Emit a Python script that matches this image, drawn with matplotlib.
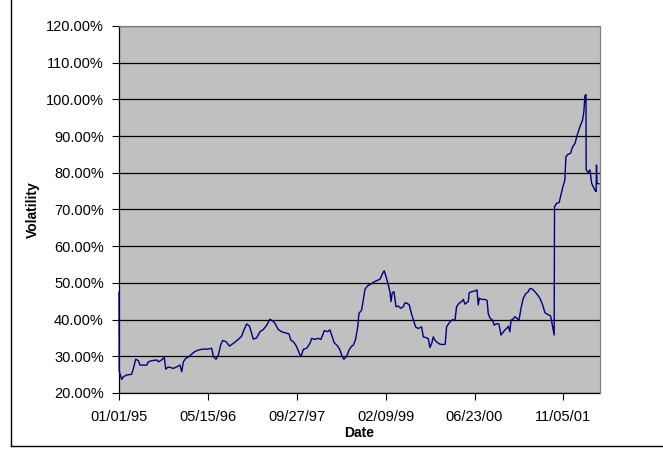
import matplotlib
matplotlib.use("Agg")
import matplotlib.pyplot as plt
import matplotlib.ticker as mticker
from matplotlib.lines import Line2D
import numpy as np
import pandas as pd

# Days since 01/01/95 and volatility (%), in segments
days_a = [0, 1, 15, 24, 43, 71, 81, 94, 109, 118, 156, 165, 184, 212, 221, 240, 255, 263,
          277, 306, 324, 343, 353, 362, 375, 390, 409, 427, 446, 465]
vol_a = [47.5, 26.0, 23.7, 24.4, 24.9, 25.1, 26.7, 29.2, 28.8, 27.6, 27.6, 28.5, 28.8,
         29.0, 28.5, 29.0, 29.7, 26.5, 27.1, 26.7, 27.1, 27.6, 25.8, 28.5, 29.4, 29.8,
         30.6, 31.3, 31.7, 31.9]

days_b = [484, 493, 521, 531, 546, 559, 572, 583, 602, 621, 643, 671, 690, 703, 718, 733,
          746, 755, 774, 793, 812, 831, 849, 864, 877, 896, 915, 934]
vol_b = [32.0, 31.9, 32.2, 29.9, 29.2, 30.4, 33.1, 34.3, 34.0, 32.8, 33.5, 34.6, 35.5,
         37.2, 38.8, 38.3, 36.3, 34.7, 35.0, 36.7, 37.3, 38.5, 40.1, 39.7, 39.0, 37.3,
         36.7, 36.4]

days_c = [956, 967, 980, 994, 1009, 1018, 1024, 1037, 1056, 1074, 1084, 1099, 1121, 1136,
          1155, 1174, 1187, 1196, 1211, 1230, 1243, 1256, 1265, 1281, 1294, 1309, 1318,
          1331, 1343, 1350, 1365, 1374, 1384, 1399, 1417, 1436]
vol_c = [36.1, 34.4, 34.0, 33.1, 31.5, 30.4, 29.9, 31.9, 32.2, 33.5, 34.9, 34.6, 34.9,
         34.6, 37.0, 36.7, 37.2, 35.8, 33.7, 32.8, 31.7, 29.9, 29.2, 30.0, 31.7, 32.8,
         33.0, 34.6, 38.1, 41.7, 42.6, 45.3, 48.3, 49.2, 49.7, 50.3]

days_d = [1449, 1468, 1483, 1492, 1502, 1515, 1524, 1530, 1537, 1547, 1558, 1571, 1584,
          1599, 1609, 1622, 1633, 1646, 1659, 1670, 1684, 1702, 1712, 1727, 1740, 1749,
          1759, 1768, 1777, 1787, 1805, 1824, 1835, 1843, 1862, 1877, 1890]
vol_d = [50.6, 51.0, 52.6, 53.3, 51.7, 49.4, 47.6, 44.9, 47.3, 47.6, 43.5, 43.7, 43.1,
         43.5, 44.6, 44.4, 44.0, 41.5, 39.4, 37.9, 37.6, 38.0, 35.3, 35.1, 34.8, 32.4,
         33.5, 35.3, 34.4, 33.9, 33.3, 33.2, 33.3, 38.1, 39.4, 40.0, 39.8]

days_e = [1899, 1912, 1927, 1937, 1946, 1955, 1965, 1970, 1984, 2002, 2014, 2021, 2027,
          2040, 2058, 2071, 2077, 2087, 2100, 2111, 2124, 2137, 2149, 2162, 2171, 2181,
          2190, 2199, 2205, 2218, 2227, 2242, 2250, 2261, 2274, 2287, 2302, 2312, 2325,
          2340, 2355, 2368, 2383, 2396, 2415, 2428, 2439, 2448]
vol_e = [43.5, 44.4, 44.9, 45.5, 44.2, 44.6, 44.9, 47.3, 47.6, 47.8, 48.1, 44.0, 45.8,
         45.5, 45.5, 45.2, 41.7, 40.4, 39.9, 38.5, 38.9, 38.8, 35.8, 36.6, 37.2, 37.6,
         38.2, 36.7, 39.8, 40.2, 40.8, 40.2, 39.8, 43.0, 45.8, 47.0, 47.6, 48.5, 48.3,
         47.6, 46.7, 45.8, 44.0, 41.9, 41.3, 41.0, 38.1, 35.8]

days_f = [2450, 2462, 2476, 2484, 2495, 2508, 2514, 2527, 2540, 2552, 2565, 2578, 2593,
          2608, 2615, 2621, 2627, 2628, 2640, 2649, 2659, 2668, 2677, 2684, 2686, 2689, 2700]
vol_f = [70.8, 71.7, 71.9, 73.5, 75.8, 78.0, 84.4, 85.1, 85.3, 87.1, 88.0, 90.3, 92.6,
         94.4, 96.7, 101.0, 101.3, 80.8, 80.1, 80.8, 77.1, 76.2, 75.3, 74.9, 82.1, 77.1, 77.0]

tick_labels = ["01/01/95", "05/15/96", "09/27/97", "02/09/99", "06/23/00", "11/05/01"]
tick_days = [0, 500, 1000, 1500, 2000, 2500]

days = days_a + days_b + days_c + days_d + days_e + days_f
volatility = vol_a + vol_b + vol_c + vol_d + vol_e + vol_f

start = pd.Timestamp("1995-01-01")
dates = [start + pd.Timedelta(days=d) for d in days]
tick_dates = [start + pd.Timedelta(days=d) for d in tick_days]
values = np.array(volatility) / 100.0

plt.rcParams['font.family'] = ['Liberation Sans', 'DejaVu Sans']

fig = plt.figure(figsize=(6.63, 4.5), dpi=100)
ax = fig.add_axes([119/663, 1-393/450, (599.5-119)/663, (393-26)/450])
ax.set_facecolor('#C0C0C0')

ax.plot(dates, values, color='#000080', lw=1.0, zorder=3, clip_on=False)

ax.set_ylim(0.2, 1.2)
ax.set_xlim(start, start + pd.Timedelta(days=2703))
ax.yaxis.set_major_locator(mticker.MultipleLocator(0.1))
ax.yaxis.set_major_formatter(mticker.FuncFormatter(lambda v, p: f"{v*100:.2f}%"))
ax.set_xticks(tick_dates)
ax.set_xticklabels(tick_labels)

ax.grid(axis='y', color='black', lw=0.9)
ax.set_axisbelow(True)
ax.tick_params(axis='both', direction='out', length=5, width=0.8, color='black',
               labelsize=10.5, pad=6)
ax.tick_params(axis='x', pad=7)

for s in ['left', 'bottom']:
    ax.spines[s].set_color('black')
    ax.spines[s].set_linewidth(0.9)
for s in ['top', 'right']:
    ax.spines[s].set_color('#808080')
    ax.spines[s].set_linewidth(0.9)

fig.text(359/663, 1-433/450, 'Date', ha='center', va='center', fontsize=10, fontweight='bold')
fig.text(33/663, 1-210/450, 'Volatility', ha='center', va='center', fontsize=10,
         fontweight='bold', rotation=90)

# Outer chart-area frame (left and bottom edges visible)
fig.add_artist(Line2D([10.5/663, 10.5/663], [1-446/450, 1.0], transform=fig.transFigure,
                      color='black', lw=1.0))
fig.add_artist(Line2D([10.5/663, 1.0], [1-446/450, 1-446/450], transform=fig.transFigure,
                      color='black', lw=1.0))

fig.savefig('out.png', dpi=100)
